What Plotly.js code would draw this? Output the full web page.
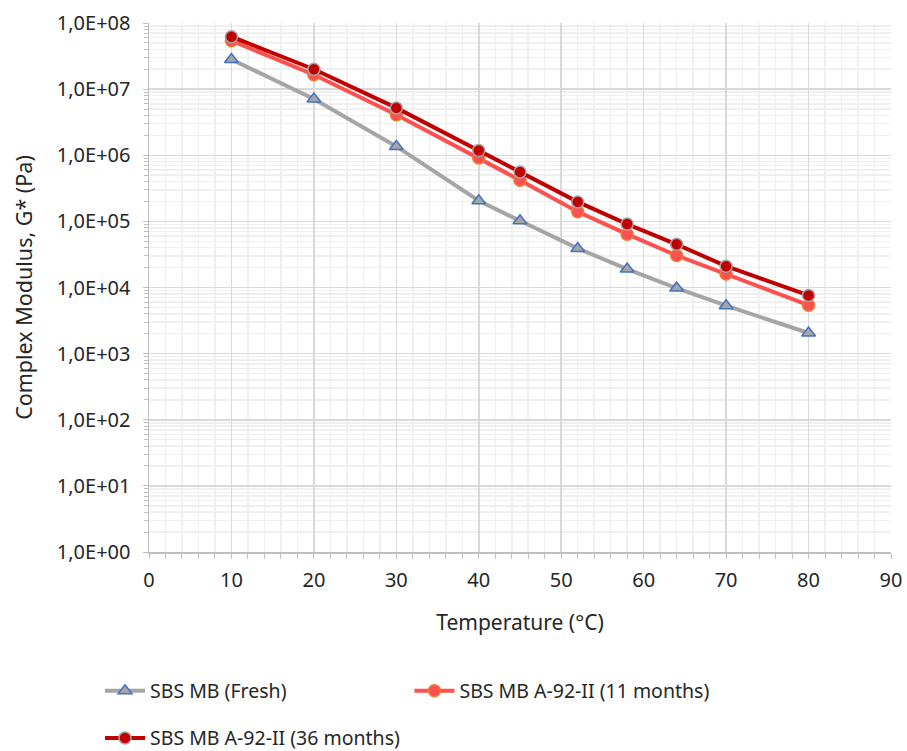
<!DOCTYPE html>
<html>
<head>
<meta charset="utf-8">
<script src="https://cdn.plot.ly/plotly-3.0.1.min.js"></script>
<style>html,body{margin:0;padding:0;background:#fff;}#chart{width:907px;height:751px;}</style>
</head>
<body>
<div id="chart"></div>
<script>
const temperature = [10, 20, 30, 40, 45, 52, 58, 64, 70, 80];
const freshG = [2.8e7, 7.1e6, 1.36e6, 2.05e5, 1.02e5, 3.9e4, 1.9e4, 9.8e3, 5.3e3, 2.05e3];
const aged11G = [5.4e7, 1.65e7, 4.1e6, 9.1e5, 4.2e5, 1.4e5, 6.4e4, 3.05e4, 1.6e4, 5.4e3];
const aged36G = [6.2e7, 2.0e7, 5.2e6, 1.18e6, 5.6e5, 1.97e5, 9.1e4, 4.5e4, 2.1e4, 7.6e3];
const seriesNames = ["SBS MB (Fresh)", "SBS MB A-92-II (11 months)", "SBS MB A-92-II (36 months)"];
const yTickVals = [1, 10, 100, 1000, 1e4, 1e5, 1e6, 1e7, 1e8];
const yTickText = ["1,0E+00","1,0E+01","1,0E+02","1,0E+03","1,0E+04","1,0E+05","1,0E+06","1,0E+07","1,0E+08"];
const xTickVals = [0, 10, 20, 30, 40, 50, 60, 70, 80, 90];

const yMinor = [];
for (let e = 0; e < 8; e++) for (let d = 2; d <= 9; d++) yMinor.push(d * Math.pow(10, e));

const font = "Noto Sans, Open Sans, sans-serif";
const traces = [
  {x: temperature, y: freshG, name: seriesNames[0], mode: "lines+markers", type: "scatter",
   line: {color: "#a5a5a5", width: 4},
   marker: {symbol: "triangle-up", size: 12, color: "#a5a5a5", line: {color: "#4472c4", width: 1.5}},
   legend: "legend"},
  {x: temperature, y: aged11G, name: seriesNames[1], mode: "lines+markers", type: "scatter",
   line: {color: "#ff4f4f", width: 4},
   marker: {symbol: "circle", size: 12, color: "#ff4f4f", line: {color: "#ed7d31", width: 1.5}},
   legend: "legend2"},
  {x: temperature, y: aged36G, name: seriesNames[2], mode: "lines+markers", type: "scatter",
   line: {color: "#c00000", width: 4},
   marker: {symbol: "circle", size: 12, color: "#c00000", line: {color: "#a5a5a5", width: 1.5}},
   legend: "legend3"}
];
const legendBase = {orientation: "h", xanchor: "left", yanchor: "middle", bgcolor: "rgba(0,0,0,0)",
  font: {family: font, size: 19.5, color: "#262626"}, itemwidth: 40};
const layout = {
  width: 907, height: 751,
  margin: {l: 149, r: 16, t: 23, b: 199, autoexpand: false},
  paper_bgcolor: "#fff", plot_bgcolor: "#fff",
  font: {family: font, color: "#262626"},
  showlegend: true,
  xaxis: {
    range: [0, 90], tickmode: "array", tickvals: xTickVals,
    showgrid: true, gridcolor: "#d9d9d9", gridwidth: 1.5,
    showline: true, linecolor: "#bfbfbf", linewidth: 1.5,
    ticks: "outside", ticklen: 5, tickcolor: "#bfbfbf", ticklabelstandoff: 4,
    minor: {dtick: 2, showgrid: true, gridcolor: "#f0f0f0", gridwidth: 1.5, ticks: "outside", ticklen: 5, tickcolor: "#bfbfbf"},
    zeroline: false,
    tickfont: {size: 20, family: font, color: "#262626"},
    title: {text: "Temperature (°C)", font: {size: 21, family: font, color: "#262626"}, standoff: 24}
  },
  yaxis: {
    type: "log", range: [0, 8], tickmode: "array", tickvals: yTickVals, ticktext: yTickText,
    showgrid: true, gridcolor: "#d9d9d9", gridwidth: 1.5,
    showline: true, linecolor: "#bfbfbf", linewidth: 1.5,
    ticks: "outside", ticklen: 5, tickcolor: "#bfbfbf", ticklabelstandoff: 8,
    minor: {tickmode: "array", tickvals: yMinor, showgrid: true, gridcolor: "#f0f0f0", gridwidth: 1.5, ticks: "outside", ticklen: 4, tickcolor: "#bfbfbf"},
    zeroline: false,
    tickfont: {size: 20, family: font, color: "#262626"},
    title: {text: "Complex Modulus, G* (Pa)", font: {size: 21.5, family: font, color: "#262626"}, standoff: 18}
  },
  legend: Object.assign({}, legendBase, {x: -0.066, y: -0.263}),
  legend2: Object.assign({}, legendBase, {x: 0.351, y: -0.263}),
  legend3: Object.assign({}, legendBase, {x: -0.066, y: -0.352})
};
Plotly.newPlot("chart", traces, layout, {displayModeBar: false, staticPlot: true});
</script>
</body>
</html>
